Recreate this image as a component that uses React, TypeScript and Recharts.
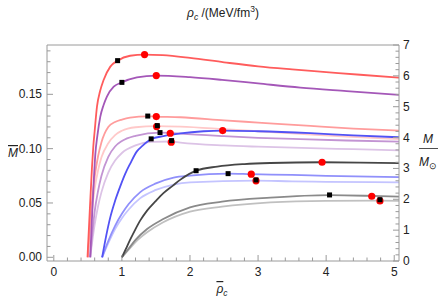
import React from 'react';
import { ComposedChart, Line, Scatter, XAxis, YAxis } from 'recharts';

// mass curves: [rho-bar_c, M-bar]
const redCurve = [[0.495, 0], [0.53, 0.045], [0.56, 0.082], [0.58, 0.102], [0.6, 0.116], [0.634, 0.1387], [0.68, 0.153], [0.73, 0.163], [0.83, 0.1755], [0.937, 0.181], [1.12, 0.1855], [1.333, 0.1866], [1.6, 0.186], [2.0, 0.1835], [2.5, 0.1795], [3.0, 0.1758], [3.5, 0.173], [4.0, 0.1705], [4.5, 0.168], [5.07, 0.1654]];
const purpleCurve = [[0.535, 0], [0.56, 0.035], [0.585, 0.068], [0.61, 0.095], [0.64, 0.112], [0.683, 0.1295], [0.73, 0.14], [0.78, 0.148], [0.88, 0.157], [1.0, 0.161], [1.22, 0.1655], [1.505, 0.1673], [2.0, 0.1658], [2.47, 0.1633], [3.0, 0.16], [3.62, 0.1562], [4.3, 0.153], [5.07, 0.1495]];
const pinkCurve = [[0.5, 0], [0.55, 0.044], [0.6, 0.074], [0.65, 0.093], [0.7, 0.106], [0.8, 0.12], [0.9, 0.1245], [1.0, 0.1268], [1.12, 0.1286], [1.38, 0.1298], [1.505, 0.1295], [1.86, 0.1289], [2.5, 0.126], [3.0, 0.124], [3.77, 0.1209], [4.4, 0.1185], [5.07, 0.1166]];
const lightPinkCurve = [[0.5, 0], [0.55, 0.037], [0.6, 0.063], [0.65, 0.08], [0.7, 0.092], [0.8, 0.105], [0.9, 0.1125], [1.0, 0.1165], [1.2, 0.1197], [1.51, 0.1208], [1.86, 0.1203], [2.5, 0.118], [3.0, 0.116], [3.62, 0.1136], [4.3, 0.111], [5.07, 0.1087]];
const midPurpleCurve = [[0.535, 0], [0.6, 0.042], [0.65, 0.061], [0.7, 0.075], [0.8, 0.0925], [0.9, 0.102], [1.0, 0.107], [1.2, 0.1118], [1.56, 0.1148], [1.71, 0.1145], [1.86, 0.1138], [2.5, 0.1115], [3.0, 0.11], [3.62, 0.1087], [4.3, 0.1075], [5.07, 0.1065]];
const palePurpleCurve = [[0.535, 0], [0.6, 0.03], [0.65, 0.047], [0.7, 0.06], [0.8, 0.078], [0.9, 0.089], [1.0, 0.096], [1.2, 0.103], [1.43, 0.1062], [1.725, 0.1066], [1.86, 0.1056], [2.5, 0.103], [3.0, 0.1018], [3.77, 0.1004], [4.4, 0.0995], [5.07, 0.0985]];
const blueCurve = [[0.71, 0], [0.77, 0.02], [0.83, 0.037], [0.9, 0.052], [0.98, 0.066], [1.05, 0.077], [1.12, 0.086], [1.22, 0.0975], [1.3, 0.1025], [1.43, 0.1088], [1.61, 0.1115], [1.86, 0.114], [2.2, 0.116], [2.48, 0.1166], [3.0, 0.116], [3.77, 0.1142], [4.4, 0.1122], [5.07, 0.1105]];
const blueLightCurve = [[0.71, 0], [0.8, 0.015], [0.9, 0.029], [1.0, 0.04], [1.1, 0.049], [1.27, 0.06], [1.5, 0.068], [1.76, 0.0733], [2.0, 0.0752], [2.56, 0.077], [2.9, 0.0765], [3.5, 0.0758], [4.0, 0.075], [5.07, 0.0738]];
const bluePaleCurve = [[0.71, 0], [0.8, 0.013], [0.9, 0.026], [1.0, 0.036], [1.1, 0.044], [1.27, 0.0545], [1.5, 0.062], [1.76, 0.067], [2.0, 0.069], [2.97, 0.0706], [3.5, 0.0699], [4.0, 0.0695], [5.07, 0.069]];
const darkGrayCurve = [[1.0, 0], [1.06, 0.008], [1.12, 0.016], [1.2, 0.026], [1.27, 0.034], [1.37, 0.043], [1.5, 0.052], [1.61, 0.059], [1.75, 0.066], [1.86, 0.0715], [2.09, 0.0797], [2.4, 0.0835], [2.8, 0.0858], [3.18, 0.0868], [3.94, 0.0875], [4.5, 0.0872], [5.07, 0.0866]];
const grayCurve = [[1.0, 0], [1.1, 0.008], [1.2, 0.016], [1.37, 0.026], [1.6, 0.035], [2.0, 0.046], [2.47, 0.0512], [3.18, 0.0549], [4.05, 0.0572], [4.67, 0.0565], [5.07, 0.0558]];
const lightGrayCurve = [[1.0, 0], [1.1, 0.007], [1.2, 0.014], [1.37, 0.023], [1.6, 0.032], [2.0, 0.042], [2.47, 0.0466], [3.18, 0.0505], [4.0, 0.052], [4.79, 0.0522], [5.07, 0.052]];

// maximum-mass points (red) and the black square markers
const maxPoints = [[1.333, 0.1866], [1.505, 0.1673], [1.505, 0.1295], [1.51, 0.1203], [1.71, 0.1142], [1.725, 0.106], [2.48, 0.1166], [2.9, 0.0765], [2.97, 0.0704], [3.94, 0.0875], [4.67, 0.0562], [4.79, 0.0519]];
const squarePoints = [[0.937, 0.181], [1.0, 0.161], [1.38, 0.13], [1.52, 0.1212], [1.56, 0.1148], [1.73, 0.1074], [1.43, 0.109], [2.56, 0.077], [2.97, 0.0712], [2.09, 0.0797], [4.05, 0.0574], [4.79, 0.053]];

// ticks
const bottomMajor = [0, 1, 2, 3, 4, 5];
const leftMajor = [0, 0.05, 0.1, 0.15];
const topMajor = [0, 200, 400, 600, 800, 1000, 1200];
const rightMajor = [0, 1, 2, 3, 4, 5, 6, 7];

const range = (from: number, to: number, step: number) => {
  const out: number[] = [];
  for (let i = 0; from + i * step <= to + 1e-9; i++) out.push(+(from + i * step).toFixed(4));
  return out;
};
const bottomTicks = range(0, 5, 0.2);
const leftTicks = range(0, 0.19, 0.01);
const topTicks = range(0, 1200, 50);
const rightTicks = range(0, 7, 0.2);

const isMajor = (v: number, majors: number[]) => majors.some((m) => Math.abs(m - v) < 1e-6);

const series = [
  { name: 'lightPink', data: lightPinkCurve, color: '#ffc9c9' },
  { name: 'palePurple', data: palePurpleCurve, color: '#dcc3e6' },
  { name: 'pink', data: pinkCurve, color: '#ff9c9c' },
  { name: 'midPurple', data: midPurpleCurve, color: '#c394d3' },
  { name: 'red', data: redCurve, color: '#ff5c5c' },
  { name: 'purple', data: purpleCurve, color: '#a457b8' },
  { name: 'bluePale', data: bluePaleCurve, color: '#c4c4ff' },
  { name: 'blueLight', data: blueLightCurve, color: '#9090fb' },
  { name: 'blue', data: blueCurve, color: '#5252f5' },
  { name: 'lightGray', data: lightGrayCurve, color: '#c0c0c0' },
  { name: 'gray', data: grayCurve, color: '#8a8a8a' },
  { name: 'darkGray', data: darkGrayCurve, color: '#464646' },
];

const toPts = (arr: number[][]) => arr.map(([x, y]) => ({ x, y }));

const FRAME = '#9a9a9a';
const LABEL = '#222';
const FONT = '"Liberation Sans", Arial, sans-serif';

const BottomTick = ({ x, y, payload }: any) => {
  const major = isMajor(payload.value, bottomMajor);
  return (
    <g>
      <line x1={x} x2={x} y1={y} y2={y - (major ? 6 : 3.5)} stroke={FRAME} />
      {major && (
        <text x={x} y={y + 15} textAnchor="middle" fontSize={12} fill={LABEL} fontFamily={FONT}>
          {payload.value}
        </text>
      )}
    </g>
  );
};

const TopTick = ({ x, y, payload }: any) => {
  const major = isMajor(payload.value, topMajor);
  return (
    <g>
      <line x1={x} x2={x} y1={y} y2={y + (major ? 6 : 3.5)} stroke={FRAME} />
      {major && (
        <text x={x} y={y - 7} textAnchor="middle" fontSize={12} fill={LABEL} fontFamily={FONT}>
          {payload.value}
        </text>
      )}
    </g>
  );
};

const LeftTick = ({ x, y, payload }: any) => {
  const major = isMajor(payload.value, leftMajor);
  return (
    <g>
      <line x1={x} x2={x + (major ? 6 : 3.5)} y1={y} y2={y} stroke={FRAME} />
      {major && (
        <text x={x - 5} y={y + 4} textAnchor="end" fontSize={12} fill={LABEL} fontFamily={FONT}>
          {payload.value.toFixed(2)}
        </text>
      )}
    </g>
  );
};

const RightTick = ({ x, y, payload }: any) => {
  const major = isMajor(payload.value, rightMajor);
  return (
    <g>
      <line x1={x} x2={x - (major ? 6 : 3.5)} y1={y} y2={y} stroke={FRAME} />
      {major && (
        <text x={x + 4} y={y + 4} textAnchor="start" fontSize={12} fill={LABEL} fontFamily={FONT}>
          {payload.value}
        </text>
      )}
    </g>
  );
};

const RedDot = ({ cx, cy }: any) => <circle cx={cx} cy={cy} r={3.6} fill="#ff0000" />;
const BlackSquare = ({ cx, cy }: any) => <rect x={cx - 2.5} y={cy - 2.5} width={5} height={5} fill="#000" />;

const App: React.FC = () => {
  return (
    <div style={{ position: 'absolute', left: 0, top: 0, width: 444, height: 303, background: '#fff' }}>
      <ComposedChart width={444} height={303} margin={{ top: 0, right: 0, bottom: 0, left: 0 }}>
        <XAxis
          xAxisId="bottom"
          type="number"
          dataKey="x"
          domain={[-0.1, 5.07]}
          allowDataOverflow
          ticks={bottomTicks}
          interval={0}
          height={42}
          tickSize={0}
          tickMargin={0}
          tickLine={false}
          axisLine={{ stroke: FRAME }}
          tick={<BottomTick />}
        />
        <XAxis
          xAxisId="top"
          orientation="top"
          type="number"
          domain={[0, 1200]}
          allowDataOverflow
          ticks={topTicks}
          interval={0}
          height={45}
          tickSize={0}
          tickMargin={0}
          tickLine={false}
          axisLine={{ stroke: FRAME }}
          tick={<TopTick />}
        />
        <YAxis
          yAxisId="left"
          type="number"
          domain={[-0.0034, 0.1954]}
          allowDataOverflow
          ticks={leftTicks}
          interval={0}
          width={47}
          tickSize={0}
          tickMargin={0}
          tickLine={false}
          axisLine={{ stroke: FRAME }}
          tick={<LeftTick />}
        />
        <YAxis
          yAxisId="right"
          orientation="right"
          type="number"
          domain={[0, 7]}
          allowDataOverflow
          ticks={rightTicks}
          interval={0}
          width={45}
          tickSize={0}
          tickMargin={0}
          tickLine={false}
          axisLine={{ stroke: FRAME }}
          tick={<RightTick />}
        />
        {series.map((s) => (
          <Line
            key={s.name}
            xAxisId="bottom"
            yAxisId="left"
            data={toPts(s.data)}
            dataKey="y"
            type="monotone"
            stroke={s.color}
            strokeWidth={1.8}
            dot={false}
            activeDot={false}
            isAnimationActive={false}
          />
        ))}
        <Scatter xAxisId="bottom" yAxisId="left" data={toPts(maxPoints)} dataKey="y" shape={<RedDot />} isAnimationActive={false} />
        <Scatter xAxisId="bottom" yAxisId="left" data={toPts(squarePoints)} dataKey="y" shape={<BlackSquare />} isAnimationActive={false} />
      </ComposedChart>
      <svg width={444} height={303} style={{ position: 'absolute', left: 0, top: 0, pointerEvents: 'none' }}>
        <text x={223} y={17} textAnchor="middle" fontSize={12} fill={LABEL} fontFamily={FONT}>
          <tspan fontStyle="italic">ρ</tspan>
          <tspan fontStyle="italic" fontSize={8.5} dy={3}>c</tspan>
          <tspan dy={-3}> /(MeV/fm</tspan>
          <tspan fontSize={8.5} dy={-5}>3</tspan>
          <tspan dy={5}>)</tspan>
        </text>
        <text x={222} y={293} textAnchor="middle" fontSize={12} fill={LABEL} fontFamily={FONT}>
          <tspan fontStyle="italic" textDecoration="overline">ρ</tspan>
          <tspan fontStyle="italic" fontSize={8.5} dy={3}>c</tspan>
        </text>
        <text x={13} y={157} textAnchor="middle" fontSize={12} fill={LABEL} fontFamily={FONT} fontStyle="italic" textDecoration="overline">
          M
        </text>
        <text x={428} y={143} textAnchor="middle" fontSize={12} fill={LABEL} fontFamily={FONT} fontStyle="italic">
          M
        </text>
        <line x1={419} x2={438} y1={148.5} y2={148.5} stroke={LABEL} strokeWidth={0.8} />
        <text x={428} y={166} textAnchor="middle" fontSize={12} fill={LABEL} fontFamily={FONT}>
          <tspan fontStyle="italic">M</tspan>
          <tspan fontSize={8.5} dy={3}>⊙</tspan>
        </text>
      </svg>
    </div>
  );
};

export default App;
